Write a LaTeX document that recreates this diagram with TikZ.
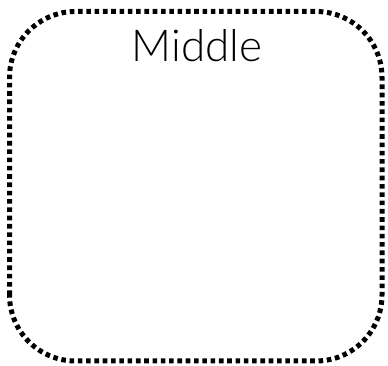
\documentclass[tikz,border=0pt]{standalone}
\usepackage{fontspec}
\setmainfont{Lato Light}

\begin{document}
\begin{tikzpicture}[x=1pt, y=1pt, every node/.style={align=center}]
\tikzset{
  dottedbox/.style={draw, line width=5pt, dash pattern=on 4.6pt off 3.7pt, rounded corners=66pt},
  boxtitle/.style={font=\fontsize{44}{46}\selectfont, inner sep=0pt, anchor=base}
}
\useasboundingbox (0,0) rectangle (388,366);
\draw[dottedbox] (9.5,5) rectangle (382,354.5);
\node[boxtitle] (title) at (197,304) {Middle};
\end{tikzpicture}
\end{document}
